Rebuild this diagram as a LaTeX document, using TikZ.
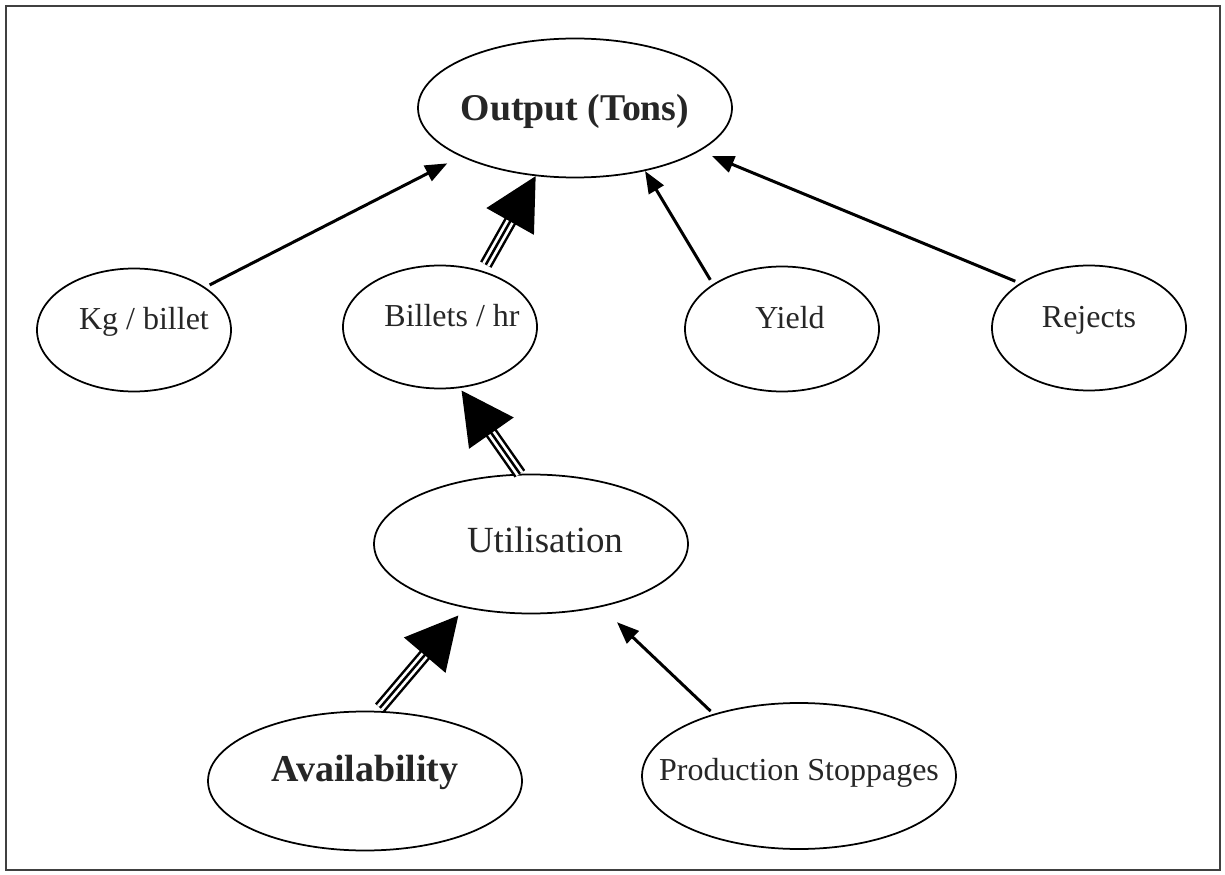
\documentclass[tikz,border=0pt]{standalone}
\usepackage{fontspec}
\setmainfont{Liberation Serif}
\usetikzlibrary{arrows.meta,shapes.geometric}

\tikzset{tri/.style={line width=0.05cm, -{Triangle[length=1.04cm,width=1.08cm]}, shorten >=#1,
    preaction={draw, -, double=white, double distance=0.16cm, shorten >=#1+0.98cm}},
  tri/.default=0cm,
  pushright/.style={execute at begin node=\hspace*{#1}}}

\begin{document}
\begin{tikzpicture}
  \tikzstyle{oval}=[ellipse, draw, line width=0.035cm, inner xsep=-3cm, text=black!85,
    text height=10pt, text depth=10pt, font=\fontsize{18.2}{20}\selectfont,
    minimum width=3.88cm, minimum height=2.46cm]
  \tikzstyle{big}=[minimum width=6.28cm, minimum height=2.78cm]
  \tikzstyle{arr}=[line width=0.06cm, -{Triangle[length=0.44cm,width=0.34cm]}]
  \useasboundingbox (0,0) rectangle (24.5,17.48);
  \draw[line width=0.04cm, black!75] (0.12,0.08) rectangle (24.4,17.36);
  \node[oval, big, font=\fontsize{21.5}{24}\selectfont\bfseries, text height=16pt, text depth=2pt] (out) at (11.5,15.32) {Output (Tons)};
  \node[oval, pushright=0.4cm] (kg) at (2.68,10.88) {Kg / billet};
  \node[oval, pushright=0.48cm] (bph) at (8.8,10.94) {Billets / hr};
  \node[oval, pushright=0.32cm, minimum height=2.5cm] (yld) at (15.64,10.9) {Yield};
  \node[oval, minimum height=2.5cm] (rej) at (21.78,10.92) {Rejects};
  \node[oval, big, pushright=0.56cm, font=\fontsize{21}{24}\selectfont, text height=14pt, text depth=4pt] (utl) at (10.62,6.6) {Utilisation};
  \node[oval, big, font=\fontsize{21.6}{24}\selectfont\bfseries, text height=12pt, text depth=11pt] (avl) at (7.3,1.86) {Availability};
  \node[oval, big, minimum height=2.92cm, text height=12pt, text depth=7pt] (prd) at (15.98,1.96) {Production Stoppages};
  \draw[arr, shorten <=0.1cm, shorten >=0.3cm] (kg.31) -- (out.203);
  \draw[tri, shorten <=0.14cm] (bph.53) -- (out.240);
  \draw[arr, shorten <=0.1cm] (yld.147) -- (out.-42);
  \draw[arr, shorten <=0.1cm, shorten >=0.26cm] (rej.147) -- (out.-19);
  \draw[tri=0.06cm] (utl.99) -- (bph.-72);
  \draw[tri=0.2cm, shorten <=0.08cm] (avl.80) -- (utl.224);
  \draw[arr, shorten <=0.08cm, shorten >=0.44cm] (prd.144) -- (utl.-42);
\end{tikzpicture}
\end{document}
